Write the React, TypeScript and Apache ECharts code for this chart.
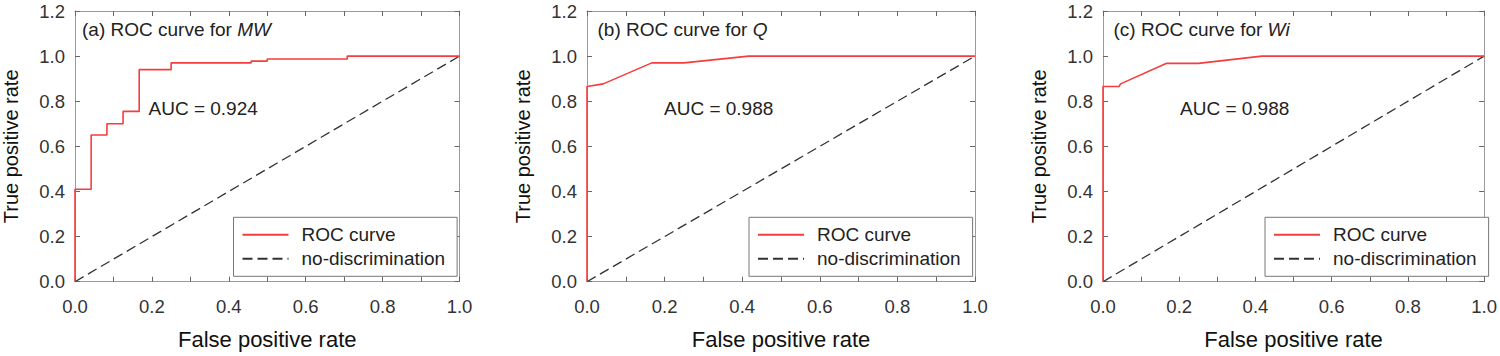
import React, { useEffect, useRef } from 'react';
import * as echarts from 'echarts';

// Panel labels and the variable each ROC curve belongs to
const panelLetters = ['a', 'b', 'c'];
const panelVariables = ['MW', 'Q', 'Wi'];
const aucValues = ['0.924', '0.988', '0.988'];

// (a) MW: step-wise ROC curve (corner points, drawn with step: 'end')
const fprA = [0, 0, 0.042, 0.083, 0.125, 0.167, 0.25, 0.458, 0.5, 0.708, 1.0];
const tprA = [0, 0.41, 0.65, 0.7, 0.755, 0.94, 0.97, 0.978, 0.987, 1.0, 1.0];

// (b) Q
const fprB = [0, 0, 0.042, 0.167, 0.25, 0.417, 1.0];
const tprB = [0, 0.865, 0.877, 0.97, 0.97, 1.0, 1.0];

// (c) Wi
const fprC = [0, 0, 0.042, 0.046, 0.167, 0.25, 0.417, 1.0];
const tprC = [0, 0.865, 0.865, 0.877, 0.968, 0.968, 1.0, 1.0];

// Reference line of a random classifier
const chanceFpr = [0, 1];
const chanceTpr = [0, 1];

const legendNames = ['ROC curve', 'no-discrimination'];
const xAxisTitle = 'False positive rate';
const yAxisTitle = 'True positive rate';

const FONT = '"Liberation Sans", Arial, Helvetica, sans-serif';
const GRID_LEFTS = [71.5, 587, 1103];
const GRID_TOP = 11;
const GRID_W = 388;
const GRID_H = 270.7;
const RED = '#f43d3d';

const curves = [
  { fpr: fprA, tpr: tprA, step: 'end' as const },
  { fpr: fprB, tpr: tprB, step: false as const },
  { fpr: fprC, tpr: tprC, step: false as const },
];

const zip = (xs: number[], ys: number[]) => xs.map((x, i) => [x, ys[i]]);

function buildOption(): echarts.EChartsOption {
  const grid: any[] = [];
  const xAxis: any[] = [];
  const yAxis: any[] = [];
  const series: any[] = [];
  const legend: any[] = [];
  const title: any[] = [];

  const frameLine = { show: true, onZero: false, lineStyle: { color: '#9a9a9a', width: 1 } };
  const tick = { show: true, inside: true, length: 5, lineStyle: { color: '#666', width: 1 } };
  const tickLabel = {
    fontSize: 18.5,
    color: '#333',
    fontFamily: FONT,
    formatter: (v: number) => v.toFixed(1),
  };

  panelLetters.forEach((letter, i) => {
    const left = GRID_LEFTS[i];
    grid.push({ left, top: GRID_TOP, width: GRID_W, height: GRID_H, containLabel: false });

    // bottom and top x axes (frame + ticks on both sides)
    xAxis.push({
      type: 'value',
      gridIndex: i,
      position: 'bottom',
      min: 0,
      max: 1,
      interval: 0.2,
      axisLine: frameLine,
      axisTick: tick,
      minorTick: { show: true, splitNumber: 2, length: 5, lineStyle: { color: '#666', width: 1 } },
      splitLine: { show: false },
      axisLabel: { ...tickLabel, margin: 15 },
      name: xAxisTitle,
      nameLocation: 'middle',
      nameGap: 47,
      nameTextStyle: { fontSize: 22, color: '#111', fontFamily: FONT },
    });
    xAxis.push({
      type: 'value',
      gridIndex: i,
      position: 'top',
      min: 0,
      max: 1,
      interval: 0.2,
      axisLine: frameLine,
      axisTick: tick,
      minorTick: { show: true, splitNumber: 2, length: 5, lineStyle: { color: '#666', width: 1 } },
      splitLine: { show: false },
      axisLabel: { show: false },
    });

    // left and right y axes
    yAxis.push({
      type: 'value',
      gridIndex: i,
      position: 'left',
      min: 0,
      max: 1.2,
      interval: 0.2,
      axisLine: frameLine,
      axisTick: tick,
      splitLine: { show: false },
      axisLabel: { ...tickLabel, margin: 10 },
      name: yAxisTitle,
      nameLocation: 'middle',
      nameRotate: 90,
      nameGap: 54,
      nameTextStyle: { fontSize: 20, color: '#111', fontFamily: FONT },
    });
    yAxis.push({
      type: 'value',
      gridIndex: i,
      position: 'right',
      min: 0,
      max: 1.2,
      interval: 0.2,
      axisLine: frameLine,
      axisTick: tick,
      splitLine: { show: false },
      axisLabel: { show: false },
    });

    const c = curves[i];
    series.push({
      type: 'line',
      name: legendNames[0],
      xAxisIndex: 2 * i,
      yAxisIndex: 2 * i,
      data: zip(c.fpr, c.tpr),
      step: c.step,
      symbol: 'none',
      lineStyle: { color: RED, width: 1.6 },
      itemStyle: { color: RED },
      z: 3,
    });
    series.push({
      type: 'line',
      name: legendNames[1],
      xAxisIndex: 2 * i,
      yAxisIndex: 2 * i,
      data: zip(chanceFpr, chanceTpr),
      symbol: 'none',
      lineStyle: { color: '#333', width: 1.3, type: [10, 5] },
      itemStyle: { color: '#333' },
      z: 2,
    });

    legend.push({
      orient: 'vertical',
      left: left + 162,
      top: 217.3,
      data: legendNames,
      selectedMode: false,
      itemWidth: 46,
      itemHeight: 14,
      itemGap: 5,
      padding: [8, 12, 8, 8],
      borderColor: '#777',
      borderWidth: 1,
      borderRadius: 0,
      backgroundColor: '#fff',
      // line-only keys: hide the marker drawn in the middle of each key
      itemStyle: { opacity: 0 },
      textStyle: { fontSize: 19, lineHeight: 19, color: '#222', fontFamily: FONT, padding: [0, 0, 0, 8] },
    });

    title.push({
      left: left + 10.5,
      top: 19.5,
      padding: 0,
      text: `(${letter}) ROC curve for {v|${panelVariables[i]}}`,
      textStyle: {
        fontSize: 19,
        fontWeight: 'normal',
        color: '#222',
        fontFamily: FONT,
        rich: { v: { fontStyle: 'italic', fontSize: 19, color: '#222', fontFamily: FONT } },
      },
    });
    title.push({
      left: left + 77,
      top: 99.2,
      padding: 0,
      text: `AUC = ${aucValues[i]}`,
      textStyle: { fontSize: 19, fontWeight: 'normal', color: '#222', fontFamily: FONT },
    });
  });

  return { animation: false, backgroundColor: '#fff', grid, xAxis, yAxis, series, legend, title };
}

export default function App() {
  const ref = useRef<HTMLDivElement>(null);
  useEffect(() => {
    if (!ref.current) return;
    const chart = echarts.init(ref.current, undefined, { renderer: 'svg' });
    chart.setOption(buildOption());
    return () => chart.dispose();
  }, []);
  return (
    <div
      ref={ref}
      style={{ position: 'fixed', left: 0, top: 0, width: 1500, height: 356, background: '#fff' }}
    />
  );
}
